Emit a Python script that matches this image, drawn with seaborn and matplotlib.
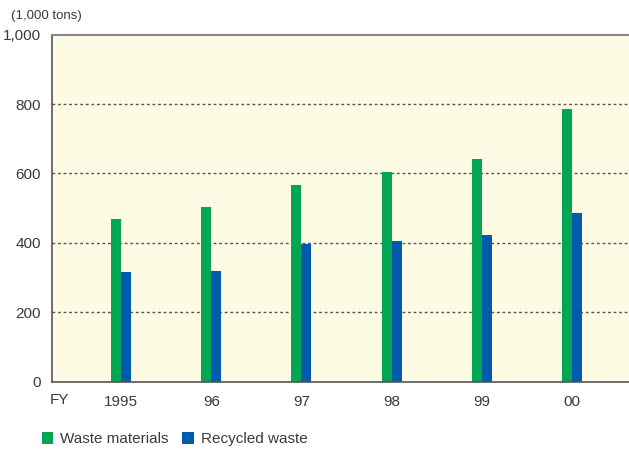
import matplotlib
matplotlib.use("Agg")
import matplotlib.pyplot as plt
import seaborn as sns
import pandas as pd
from matplotlib.patches import Patch

years = ["1995", "96", "97", "98", "99", "00"]
waste_materials = [469, 504, 567, 605, 642, 786]
recycled_waste = [316, 319, 397, 405, 423, 486]
series_names = ["Waste materials", "Recycled waste"]
yticks = [0, 200, 400, 600, 800, 1000]
ytick_labels = ["0", "200", "400", "600", "800", "1,000"]

df = pd.DataFrame({
    "year": years * 2,
    "value": waste_materials + recycled_waste,
    "series": [series_names[0]] * len(years) + [series_names[1]] * len(years),
})

sns.set_theme(style="white")
plt.rcParams['font.family'] = ['Liberation Sans', 'DejaVu Sans']
text_color = "#3a3a3a"

fig = plt.figure(figsize=(6.29, 4.5), dpi=100)
ax = fig.add_axes([0.0827, 0.152, 0.9173, 0.771])
ax.set_facecolor("#FDFBE3")

colors = ["#00A651", "#005BAC"]
sns.barplot(data=df, x="year", y="value", hue="series", palette=colors,
            width=0.222, gap=0, ax=ax, legend=False, saturation=1)
for p in ax.patches:
    p.set_linewidth(0)

ax.set_xlim(-0.767, 5.633)
ax.set_ylim(0, 1000)
ax.set_yticks(yticks)
ax.set_yticklabels(ytick_labels, fontsize=11, color=text_color)
ax.set_xticks(range(len(years)))
ax.set_xticklabels(years, fontsize=11, color=text_color)
ax.tick_params(axis="x", length=0, pad=10)
ax.tick_params(axis="y", length=0, pad=8)
ax.set_xlabel("")
ax.set_ylabel("")

for y in yticks[1:-1]:
    ax.axhline(y, color="#555555", linestyle=(0, (2, 2)), linewidth=1, zorder=0.5)

for side in ["left", "bottom"]:
    ax.spines[side].set_color("#555555")
    ax.spines[side].set_linewidth(1.2)
ax.spines["top"].set_color("#888888")
ax.spines["top"].set_linewidth(1.5)
ax.spines["right"].set_visible(False)

fig.text(11 / 629, 1 - 16 / 450, "(1,000 tons)", fontsize=9.5, color=text_color, va="center", ha="left")
fig.text(50 / 629, 1 - 400 / 450, "FY", fontsize=11, color=text_color, va="center", ha="left")

handles = [Patch(facecolor=c, edgecolor="none") for c in colors]
fig.legend(handles, series_names, loc="center left", bbox_to_anchor=(28 / 629, 1 - 439 / 450),
           ncol=2, frameon=False, fontsize=11, handlelength=0.75, handleheight=0.85,
           handletextpad=0.45, columnspacing=0.9, labelcolor=text_color)

fig.savefig("out.png", dpi=100)
